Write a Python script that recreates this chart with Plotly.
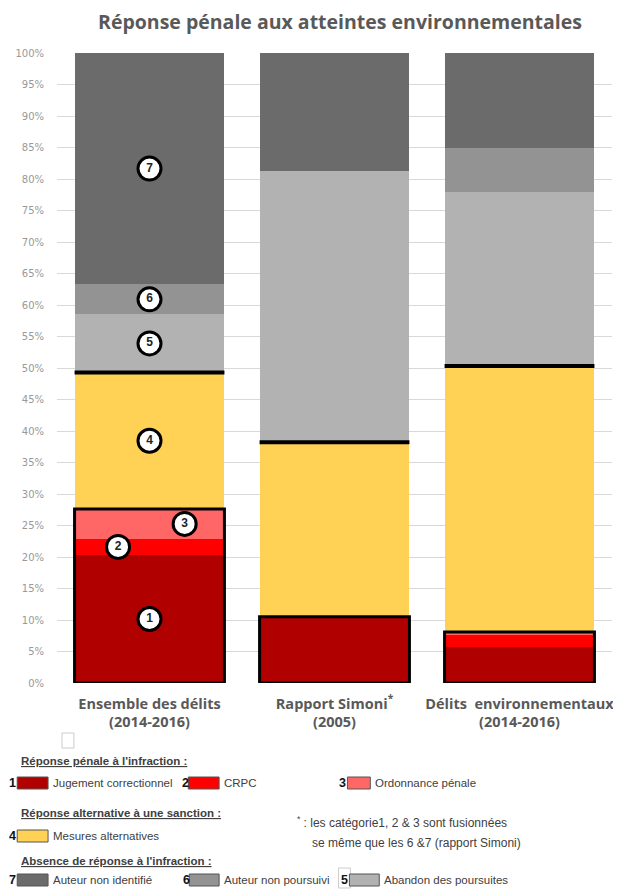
import plotly.graph_objects as go

# ---------------- data ----------------
categories = ["Ensemble des délits<br>(2014-2016)",
              "Rapport Simoni<sup>*</sup><br>(2005)",
              "Délits  environnementaux<br>(2014-2016)"]
jugement = [20.3, 10.5, 5.7]       # 1
crpc = [2.6, 0.0, 1.9]             # 2
ordonnance = [4.7, 0.0, 0.5]       # 3
mesures = [21.7, 27.7, 42.2]       # 4
abandon = [9.2, 43.1, 27.7]        # 5
non_poursuivi = [4.8, 0.0, 6.9]    # 6
non_identifie = [36.7, 18.7, 15.1] # 7
y_ticks = list(range(0, 101, 5))

series = [
    ("Jugement correctionnel", jugement, "#b00000"),
    ("CRPC", crpc, "#ff0000"),
    ("Ordonnance pénale", ordonnance, "#ff6666"),
    ("Mesures alternatives", mesures, "#ffd154"),
    ("Abandon des poursuites", abandon, "#b2b2b2"),
    ("Auteur non poursuivi", non_poursuivi, "#939393"),
    ("Auteur non identifié", non_identifie, "#6b6b6b"),
]

OFF = 8  # page body margin
W, H = 621 - OFF, 889 - OFF
PW, PH = 558, 630
L = 56 - OFF
T = 53 - OFF
R = W - L - PW
B = H - T - PH
BW = 0.81
xs = list(range(len(categories)))

fig = go.Figure()
for name, vals, col in series:
    fig.add_trace(go.Bar(x=xs, y=vals, name=name, marker_color=col,
                         marker_line_width=0, width=BW, showlegend=False))

# black outlines of the penal response blocks and separator lines
for i in xs:
    red_top = jugement[i] + crpc[i] + ordonnance[i]
    yel_top = red_top + mesures[i]
    fig.add_shape(type="rect", x0=i - BW / 2, x1=i + BW / 2, y0=0, y1=red_top,
                  xref="x", yref="y", line=dict(color="black", width=3))
    fig.add_shape(type="line", x0=i - BW / 2, x1=i + BW / 2, y0=yel_top, y1=yel_top,
                  xref="x", yref="y", line=dict(color="black", width=4))

# numbered circles on the first bar (segment midpoints)
cum = 0
mx, my, mt = [], [], []
offsets = [0, -0.17, 0.19, 0, 0, 0, 0]
for k, (name, vals, col) in enumerate(series):
    v = vals[0]
    mx.append(0 + offsets[k])
    my.append(cum + v / 2)
    mt.append(f"<b>{k + 1}</b>")
    cum += v
fig.add_trace(go.Scatter(x=mx, y=my, mode="markers+text", text=mt,
                         textposition="middle center",
                         textfont=dict(family="Liberation Sans", size=12, color="#222"),
                         marker=dict(size=23, color="white",
                                     line=dict(color="black", width=3)),
                         showlegend=False, hoverinfo="skip"))

fig.update_layout(
    width=W, height=H, autosize=False,
    margin=dict(l=L, r=R, t=T, b=B),
    barmode="stack",
    plot_bgcolor="white", paper_bgcolor="white",
    title=dict(text="<b>Réponse pénale aux atteintes environnementales</b>",
               x=(340 - OFF) / W, xanchor="center", y=1 - (22 - OFF) / H, yanchor="middle",
               font=dict(family="Open Sans", size=19.5, color="#595959")),
    xaxis=dict(range=[-0.5, 2.5], tickvals=xs,
               ticktext=[f"<b>{c}</b>" for c in categories],
               showgrid=False, zeroline=False, showline=False,
               ticklabelstandoff=10,
               tickfont=dict(family="Open Sans", size=14.5, color="#595959")),
    yaxis=dict(range=[0, 100], tickvals=y_ticks, ticktext=[f"{t}%" for t in y_ticks],
               showgrid=True, gridcolor="#d9d9d9", gridwidth=1, zeroline=False,
               tickfont=dict(family="DejaVu Sans", size=10, color="#999999"),
               ticks="outside", ticklen=10, tickcolor="white"),
)

# ---------------- custom legend (reference pixel coords) ----------------
def px(x):
    return (x - 56) / PW

def py(y):
    return (683 - y) / PH

def text(x, y, s, size=12, color="#404040", anchor="left"):
    fig.add_annotation(x=px(x), y=py(y), xref="paper", yref="paper", text=s,
                       showarrow=False, xanchor=anchor, yanchor="middle",
                       font=dict(family="Liberation Sans", size=size, color=color))

def swatch(x0, x1, y, col):
    fig.add_shape(type="rect", xref="paper", yref="paper",
                  x0=px(x0), x1=px(x1), y0=py(y - 6), y1=py(y + 6),
                  fillcolor=col, line=dict(color="#555555", width=1))

def box(x0, x1, y0, y1):
    fig.add_shape(type="rect", xref="paper", yref="paper",
                  x0=px(x0), x1=px(x1), y0=py(y1), y1=py(y0),
                  fillcolor="rgba(0,0,0,0)", line=dict(color="#cccccc", width=1))

box(61, 73, 733, 748)
box(339, 351, 868, 888)

text(18, 761, "<b><u>Réponse pénale à l'infraction :</u></b>", size=11.5)
text(18, 813, "<b><u>Réponse alternative à une sanction :</u></b>", size=11.5)
text(18, 861, "<b><u>Absence de réponse à l'infraction :</u></b>", size=11.5)

legend_rows = [
    (783, [(8, 16, 47, 1), (182, 188, 219, 2), (340, 348, 371, 3)]),
    (836, [(8, 16, 47, 4)]),
    (880, [(8, 16, 47, 7), (183, 189, 219, 6), (342, 350, 380, 5)]),
]
for yrow, items in legend_rows:
    for nx, sx0, sx1, k in items:
        name, vals, col = series[k - 1]
        text(nx - 2, yrow, f"<b>{k}</b>", size=12.5, color="#111111")
        swatch(sx0, sx1, yrow, col)
        text(sx1 + 3, yrow, name, size=11.5)

text(295, 822, "<sup>*</sup> : les catégorie1, 2 &amp; 3 sont fusionnées", size=12)
text(310, 843, "se même que les 6 &amp;7 (rapport Simoni)", size=12)

fig.write_html("out.html")
